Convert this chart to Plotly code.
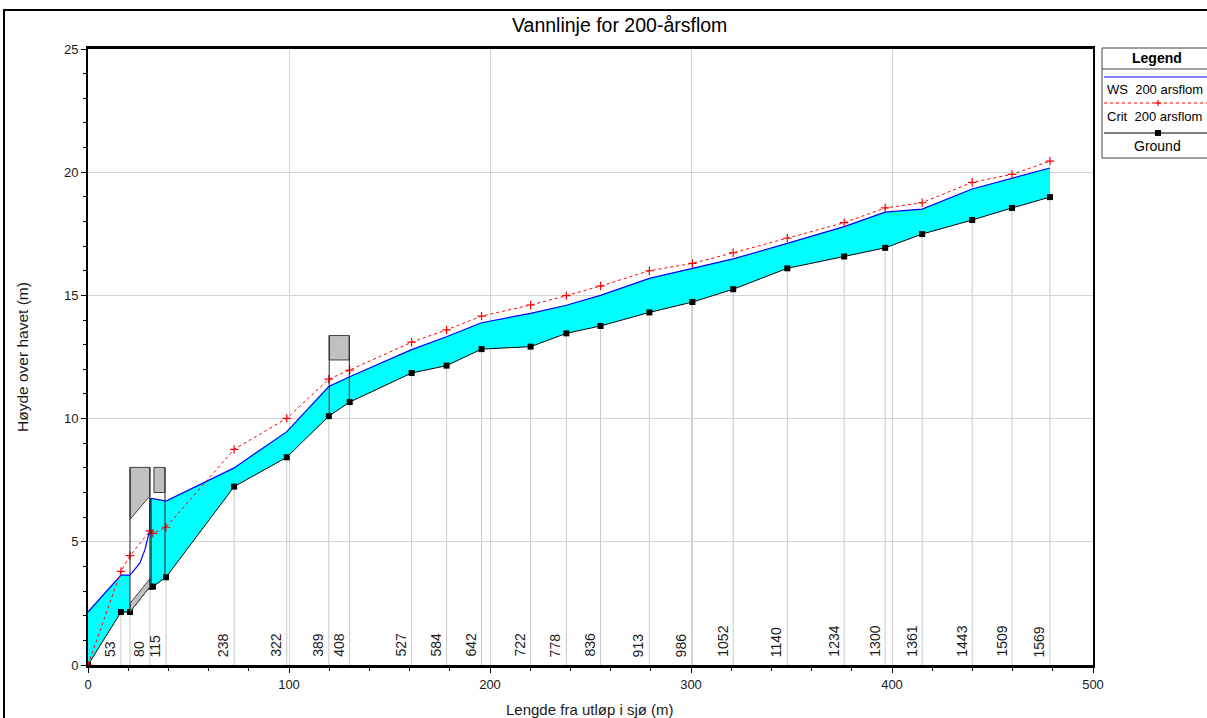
import plotly.graph_objects as go

# ---------------- data ----------------
ground_x = [0, 16.4, 20.9, 30.8, 32.3, 38.8, 72.7, 98.9, 119.8, 130.2, 161.0, 178.4, 195.8, 220.2, 238.0,
            255.0, 279.3, 300.7, 321.0, 347.9, 376.2, 396.6, 415.0, 439.9, 459.7, 478.6]
ground_y = [0, 2.15, 2.15, 3.18, 3.18, 3.56, 7.24, 8.43, 10.1, 10.67, 11.85, 12.15, 12.82, 12.92, 13.46,
            13.76, 14.31, 14.73, 15.25, 16.1, 16.58, 16.93, 17.49, 18.06, 18.55, 18.99]

ws_x = [0, 16.4, 20.9, 25.8, 28.3, 30.0, 30.6, 30.8, 32.3, 38.8, 72.7, 98.9, 119.8, 130.2, 161.0, 178.4,
        195.8, 220.2, 238.0, 255.0, 279.3, 300.7, 321.0, 347.9, 376.2, 396.6, 415.0, 439.9, 459.7, 478.6]
ws_y = [2.15, 3.65, 3.65, 4.13, 4.67, 5.21, 5.45, 6.75, 6.75, 6.65, 8.0, 9.47, 11.3, 11.7, 12.8, 13.32,
        13.89, 14.27, 14.6, 15.0, 15.69, 16.1, 16.48, 17.11, 17.79, 18.38, 18.5, 19.32, 19.75, 20.17]

crit_x = [0, 16.4, 20.9, 30.8, 32.3, 38.8, 72.7, 98.9, 119.8, 130.2, 161.0, 178.4, 195.8, 220.2, 238.0,
          255.0, 279.3, 300.7, 321.0, 347.9, 376.2, 396.6, 415.0, 439.9, 459.7, 478.6]
crit_y = [0, 3.8, 4.44, 5.44, 5.34, 5.59, 8.75, 10.01, 11.6, 11.97, 13.1, 13.6, 14.16, 14.61, 14.99,
          15.38, 16.0, 16.3, 16.73, 17.32, 17.95, 18.55, 18.76, 19.59, 19.91, 20.45]

station_x = [16.4, 30.8, 38.8, 72.7, 98.9, 119.8, 130.2, 161.0, 178.4, 195.8, 220.2, 238.0, 255.0,
             279.3, 300.7, 321.0, 347.9, 376.2, 396.6, 415.0, 439.9, 459.7, 478.6]
station_labels = ["53", "80", "115", "238", "322", "389", "408", "527", "584", "642", "722", "778", "836",
                  "913", "986", "1052", "1140", "1234", "1300", "1361", "1443", "1509", "1569"]

# bridge decks: left, right, top, low chord left, low chord right
deck_x0 = [20.9, 32.8, 120.0]
deck_x1 = [30.8, 38.3, 130.0]
deck_top = [8.02, 8.02, 13.37]
deck_low_l = [5.91, 7.0, 12.38]
deck_low_r = [6.86, 7.0, 12.38]

# bridge faces / piers: x, bottom, top
face_x = [20.9, 30.8, 31.4, 38.3, 120.0, 130.0]
face_bot = [2.15, 3.18, 3.18, 3.56, 10.1, 10.67]
face_top = [8.02, 8.02, 6.75, 8.02, 13.37, 13.37]

# culvert interior range where water fill is not drawn
gap_x0, gap_x1 = 20.9, 30.8

title_text = "Vannlinje for 200-årsflom"
x_title = "Lengde fra utløp i sjø (m)"
y_title = "Høyde over havet (m)"

# ---------------- layout geometry ----------------
W, H = 1207, 718
L, R, T, B = 88, 1093, 49, 665


def px(p):
    return (p - L) / (R - L)


def py(p):
    return (B - p) / (B - T)


FONT = "Liberation Sans, Arial, sans-serif"
TXT = "#1a1a1a"

fig = go.Figure()


def segment(xs, ys, lo, hi):
    xx = [x for x in xs if lo <= x <= hi]
    yy = [y for x, y in zip(xs, ys) if lo <= x <= hi]
    return xx, yy


# cyan water fills
for lo, hi in [(0, gap_x0), (gap_x1, 1000)]:
    wxs, wys = segment(ws_x, ws_y, lo, hi)
    gxs, gys = segment(ground_x, ground_y, lo, hi)
    fig.add_trace(go.Scatter(x=wxs + gxs[::-1], y=wys + gys[::-1], fill="toself", mode="none",
                             fillcolor="#00ffff", hoverinfo="skip", showlegend=False))

# ground
fig.add_trace(go.Scatter(x=ground_x, y=ground_y, mode="lines+markers",
                         line=dict(color="black", width=1),
                         marker=dict(symbol="square", size=6, color="black"), showlegend=False))
# water surface
fig.add_trace(go.Scatter(x=ws_x, y=ws_y, mode="lines", line=dict(color="#0000ff", width=1.2),
                         showlegend=False))
# critical depth
fig.add_trace(go.Scatter(x=crit_x, y=crit_y, mode="lines+markers",
                         line=dict(color="#ff0000", width=1, dash="3px,3px"),
                         marker=dict(symbol="cross-thin", size=6, line=dict(color="#ff0000", width=1.2)),
                         showlegend=False))

shapes = []
# station lines (light gray from axis to ground)
for sx in station_x:
    gy = ground_y[ground_x.index(sx)]
    shapes.append(dict(type="line", xref="x", yref="y", x0=sx, x1=sx, y0=0, y1=gy,
                       line=dict(color="#c8c8c8", width=1), layer="below"))
shapes.append(dict(type="line", xref="x", yref="y", x0=20.9, x1=20.9, y0=0, y1=2.15,
                   line=dict(color="#c8c8c8", width=1), layer="below"))

# ground inside the first bridge (gray sliver)
shapes.append(dict(type="path", xref="x", yref="y",
                   path="M 20.9 2.15 L 20.9 2.5 L 30.8 3.5 L 30.8 3.18 Z",
                   fillcolor="#c0c0c0", line=dict(color="#404040", width=1)))

# bridge decks
for x0, x1, top, ll, lr in zip(deck_x0, deck_x1, deck_top, deck_low_l, deck_low_r):
    shapes.append(dict(type="path", xref="x", yref="y",
                       path=f"M {x0} {top} L {x1} {top} L {x1} {lr} L {x0} {ll} Z",
                       fillcolor="#c0c0c0", line=dict(color="#404040", width=1)))
# bridge faces
for fx, fb, ft in zip(face_x, face_bot, face_top):
    shapes.append(dict(type="line", xref="x", yref="y", x0=fx, x1=fx, y0=fb, y1=ft,
                       line=dict(color="#202020", width=1)))

# outer frame
shapes.append(dict(type="rect", xref="paper", yref="paper", x0=px(4), x1=px(1300), y0=py(800), y1=py(10),
                   line=dict(color="black", width=2), fillcolor="rgba(0,0,0,0)", layer="below"))

# legend box
LX0, LX1, LY0, LY1 = 1102, 1230, 48, 158
shapes.append(dict(type="rect", xref="paper", yref="paper", x0=px(LX0), x1=px(LX1), y0=py(LY1), y1=py(LY0),
                   line=dict(color="#404040", width=1), fillcolor="white"))
shapes.append(dict(type="line", xref="paper", yref="paper", x0=px(LX0), x1=px(LX1), y0=py(69), y1=py(69),
                   line=dict(color="#404040", width=1)))
shapes.append(dict(type="line", xref="paper", yref="paper", x0=px(1104), x1=px(LX1), y0=py(77), y1=py(77),
                   line=dict(color="#0000ff", width=1.2)))
shapes.append(dict(type="line", xref="paper", yref="paper", x0=px(1104), x1=px(LX1), y0=py(103), y1=py(103),
                   line=dict(color="#ff0000", width=1, dash="3px,3px")))
shapes.append(dict(type="line", xref="paper", yref="paper", x0=px(1104), x1=px(LX1), y0=py(133), y1=py(133),
                   line=dict(color="black", width=1)))
shapes.append(dict(type="rect", xref="paper", yref="paper", x0=px(1155), x1=px(1161), y0=py(136), y1=py(130),
                   line=dict(color="black", width=0), fillcolor="black"))
shapes.append(dict(type="line", xref="paper", yref="paper", x0=px(1155), x1=px(1161), y0=py(103), y1=py(103),
                   line=dict(color="#ff0000", width=1.2)))
shapes.append(dict(type="line", xref="paper", yref="paper", x0=px(1158), x1=px(1158), y0=py(100), y1=py(106),
                   line=dict(color="#ff0000", width=1.2)))

annotations = []
for sx, lab in zip(station_x, station_labels):
    annotations.append(dict(x=sx, y=0, xref="x", yref="y", text=lab, showarrow=False, textangle=-90,
                            xanchor="right", yanchor="bottom", xshift=-1, yshift=6,
                            font=dict(family=FONT, size=14, color=TXT)))

annotations += [
    dict(x=px(619), y=py(25), xref="paper", yref="paper", text=title_text, showarrow=False,
         font=dict(family=FONT, size=19.5, color="black"), xanchor="center", yanchor="middle"),
    dict(x=px(590), y=py(709), xref="paper", yref="paper", text=x_title, showarrow=False,
         font=dict(family=FONT, size=15, color=TXT), xanchor="center", yanchor="middle"),
    dict(x=px(22), y=py(357), xref="paper", yref="paper", text=y_title, showarrow=False, textangle=-90,
         font=dict(family=FONT, size=15.5, color=TXT), xanchor="center", yanchor="middle"),
    dict(x=px(1157), y=py(58), xref="paper", yref="paper", text="<b>Legend</b>", showarrow=False,
         font=dict(family=FONT, size=14, color="black"), xanchor="center", yanchor="middle"),
    dict(x=px(1105), y=py(89), xref="paper", yref="paper", text="WS  200 arsflom", showarrow=False,
         font=dict(family=FONT, size=13, color="black"), xanchor="left", yanchor="middle"),
    dict(x=px(1105), y=py(117), xref="paper", yref="paper", text="Crit  200 arsflom", showarrow=False,
         font=dict(family=FONT, size=13, color="black"), xanchor="left", yanchor="middle"),
    dict(x=px(1157), y=py(146), xref="paper", yref="paper", text="Ground", showarrow=False,
         font=dict(family=FONT, size=14, color="black"), xanchor="center", yanchor="middle"),
]

fig.update_layout(
    width=W, height=H,
    margin=dict(l=L, r=W - R, t=T, b=H - B, pad=0),
    paper_bgcolor="white", plot_bgcolor="white",
    showlegend=False,
    shapes=shapes, annotations=annotations,
    font=dict(family=FONT, size=13, color=TXT),
)
fig.update_xaxes(range=[0, 500], dtick=100, tick0=0, showgrid=True, gridcolor="#d4d4d4", gridwidth=1,
                 zeroline=False, showline=True, linecolor="black", linewidth=3, mirror=True,
                 ticks="outside", ticklen=5, tickcolor="black", tickwidth=1,
                 minor=dict(dtick=20, ticks="outside", ticklen=3, tickcolor="black", showgrid=False),
                 tickfont=dict(family=FONT, size=13, color=TXT))
fig.update_yaxes(range=[0, 25], dtick=5, tick0=0, showgrid=True, gridcolor="#d4d4d4", gridwidth=1,
                 zeroline=False, showline=True, linecolor="black", linewidth=2, mirror=True,
                 ticks="outside", ticklen=5, tickcolor="black", tickwidth=1,
                 minor=dict(dtick=1, ticks="outside", ticklen=3, tickcolor="black", showgrid=False),
                 tickfont=dict(family=FONT, size=13, color=TXT))

fig.write_html("out.html", config={"displayModeBar": False},
               post_script="document.body.style.margin='0';document.body.style.overflow='hidden';")
